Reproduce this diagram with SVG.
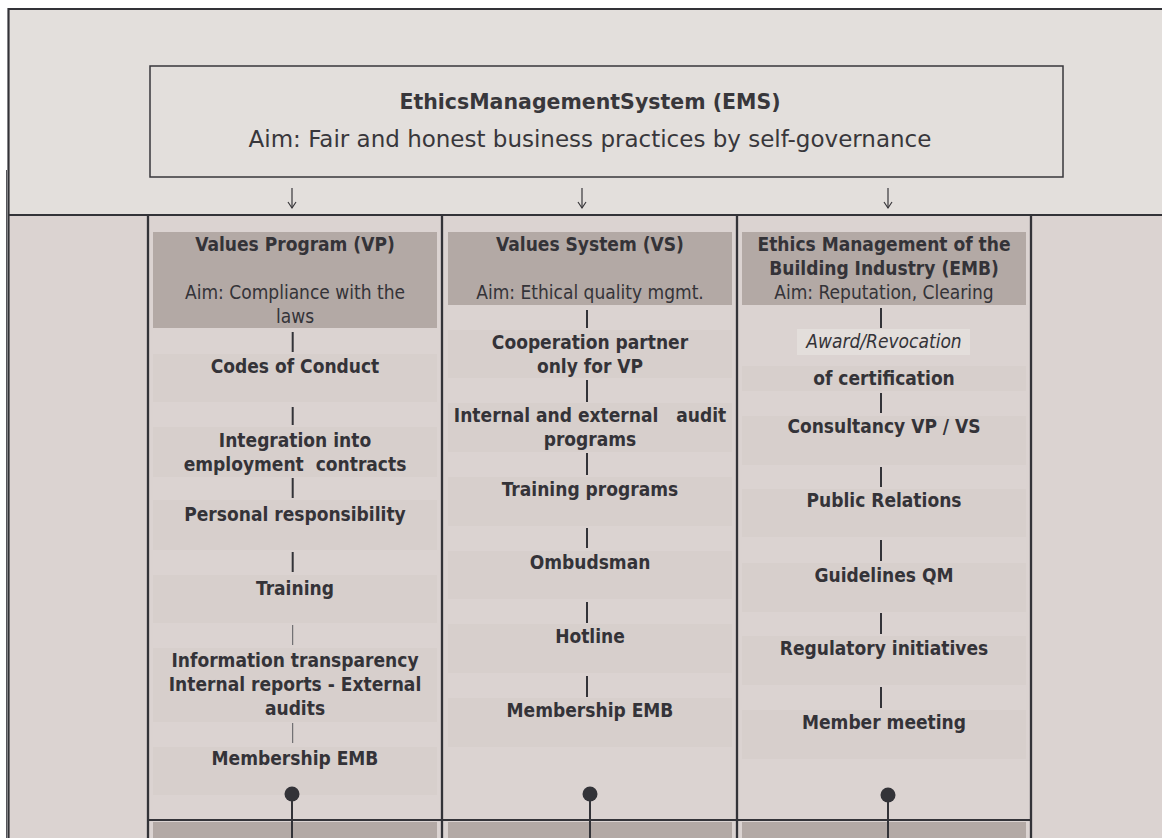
<svg xmlns="http://www.w3.org/2000/svg" width="1162" height="838" viewBox="0 0 1162 838">
<defs>
<marker id="ah" markerWidth="10" markerHeight="10" refX="8.5" refY="5" orient="auto" markerUnits="userSpaceOnUse" viewBox="0 0 10 10">
<path d="M2.5,1 L8.5,5 L2.5,9" fill="none" stroke="#38373b" stroke-width="1.2"/>
</marker>
</defs>
<style>
.frame{stroke:#333338;stroke-width:2.2;fill:none}
.col{stroke:#333338;stroke-width:2.3;fill:none}
.hdr{fill:#b3a9a5}
.item{fill:#d7cfcc}
.hi{fill:#e3dedb}
.t{font-family:"DejaVu Sans Condensed","DejaVu Sans",sans-serif;font-stretch:condensed;font-size:19px;fill:#343338;text-anchor:middle}
.b{font-weight:bold}
.i{font-style:italic}
.pre{white-space:pre}
.ht{font-family:"DejaVu Sans",sans-serif;fill:#38373b;text-anchor:middle}
.arr{stroke:#38373b;stroke-width:1.2;fill:none}
.c{stroke:#333338;stroke-width:2;fill:none}
.cthin{stroke:#5a5a5e;stroke-width:1;fill:none}
.dot{fill:#333338}
</style>
<rect x="0" y="0" width="1162" height="838" fill="#ffffff"/>
<rect x="8" y="9" width="1154" height="206" fill="#e3dfdc"/>
<rect x="8" y="215" width="1154" height="623" fill="#dbd3d1"/>
<g id="frame">
<line class="frame" x1="8" y1="9" x2="1162" y2="9"/>
<line class="frame" x1="8.5" y1="8" x2="8.5" y2="838"/>
<line stroke="#55555a" stroke-width="1" x1="6.5" y1="170" x2="6.5" y2="838"/>
<line class="frame" x1="8" y1="215" x2="1162" y2="215"/>
</g>
<g id="ems">
<rect x="150" y="66" width="913" height="111" fill="none" stroke="#38373b" stroke-width="1.5"/>
<text class="ht" x="590" y="109" font-size="20.5" font-weight="bold">EthicsManagementSystem (EMS)</text>
<text class="ht" x="590" y="147" font-size="23">Aim: Fair and honest business practices by self-governance</text>
</g>
<g id="columns">
<line class="col" x1="148" y1="215" x2="148" y2="838"/>
<line class="col" x1="442" y1="215" x2="442" y2="838"/>
<line class="col" x1="737" y1="215" x2="737" y2="838"/>
<line class="col" x1="1031" y1="215" x2="1031" y2="838"/>
<line class="frame" x1="148" y1="820" x2="1031" y2="820"/>
<rect class="hdr" x="153" y="822" width="284" height="16"/>
<rect class="hdr" x="448" y="822" width="284" height="16"/>
<rect class="hdr" x="742" y="822" width="284" height="16"/>
</g>
<g id="vp">
<rect class="hdr" x="153" y="232" width="284" height="96"/>
<text class="t b" x="295" y="251">Values Program (VP)</text>
<text class="t" x="295" y="299">Aim: Compliance with the</text>
<text class="t" x="295" y="323">laws</text>
</g>
<g id="vp-codes"><rect class="item" x="153" y="354" width="284" height="48"/><text class="t b" x="295" y="373">Codes of Conduct</text></g>
<g id="vp-integration"><rect class="item" x="153" y="427" width="284" height="50"/><text class="t b" x="295" y="447">Integration into</text><text class="t b pre" x="295" y="471">employment  contracts</text></g>
<g id="vp-personal"><rect class="item" x="153" y="500" width="284" height="50"/><text class="t b" x="295" y="521">Personal responsibility</text></g>
<g id="vp-training"><rect class="item" x="153" y="575" width="284" height="48"/><text class="t b" x="295" y="595">Training</text></g>
<g id="vp-info"><rect class="item" x="153" y="648" width="284" height="74"/><text class="t b" x="295" y="667">Information transparency</text><text class="t b" x="295" y="691">Internal reports - External</text><text class="t b" x="295" y="715">audits</text></g>
<g id="vp-membership"><rect class="item" x="153" y="747" width="284" height="48"/><text class="t b" x="295" y="765">Membership EMB</text></g>
<g id="vs">
<rect class="hdr" x="448" y="232" width="284" height="73"/>
<text class="t b" x="590" y="251">Values System (VS)</text>
<text class="t" x="590" y="299">Aim: Ethical quality mgmt.</text>
</g>
<g id="vs-coop"><rect class="item" x="448" y="330" width="284" height="48"/><text class="t b" x="590" y="349">Cooperation partner</text><text class="t b" x="590" y="373">only for VP</text></g>
<g id="vs-audit"><rect class="item" x="448" y="403" width="284" height="49"/><text class="t b pre" x="590" y="422">Internal and external   audit</text><text class="t b" x="590" y="446">programs</text></g>
<g id="vs-training"><rect class="item" x="448" y="477" width="284" height="49"/><text class="t b" x="590" y="496">Training programs</text></g>
<g id="vs-ombudsman"><rect class="item" x="448" y="551" width="284" height="48"/><text class="t b" x="590" y="569">Ombudsman</text></g>
<g id="vs-hotline"><rect class="item" x="448" y="624" width="284" height="49"/><text class="t b" x="590" y="643">Hotline</text></g>
<g id="vs-membership"><rect class="item" x="448" y="698" width="284" height="49"/><text class="t b" x="590" y="717">Membership EMB</text></g>
<g id="emb">
<rect class="hdr" x="742" y="232" width="284" height="73"/>
<text class="t b" x="884" y="251">Ethics Management of the</text>
<text class="t b" x="884" y="275">Building Industry (EMB)</text>
<text class="t" x="884" y="299">Aim: Reputation, Clearing</text>
</g>
<g id="emb-award"><rect class="hi" x="797" y="329" width="173" height="26"/><text class="t i" x="884" y="348">Award/Revocation</text></g>
<g id="emb-cert"><rect class="item" x="742" y="366" width="284" height="25"/><text class="t b" x="884" y="385">of certification</text></g>
<g id="emb-consult"><rect class="item" x="742" y="416" width="284" height="49"/><text class="t b" x="884" y="433">Consultancy VP / VS</text></g>
<g id="emb-pr"><rect class="item" x="742" y="489" width="284" height="48"/><text class="t b" x="884" y="507">Public Relations</text></g>
<g id="emb-qm"><rect class="item" x="742" y="563" width="284" height="49"/><text class="t b" x="884" y="582">Guidelines QM</text></g>
<g id="emb-reg"><rect class="item" x="742" y="636" width="284" height="49"/><text class="t b" x="884" y="655">Regulatory initiatives</text></g>
<g id="emb-meeting"><rect class="item" x="742" y="710" width="284" height="49"/><text class="t b" x="884" y="729">Member meeting</text></g>
<g id="connectors">
<line class="arr" x1="292" y1="188" x2="292" y2="208" marker-end="url(#ah)"/>
<line class="arr" x1="582" y1="188" x2="582" y2="208" marker-end="url(#ah)"/>
<line class="arr" x1="888" y1="188" x2="888" y2="208" marker-end="url(#ah)"/>
<line class="c" x1="292.7" y1="332" x2="292.7" y2="352"/>
<line class="c" x1="292.7" y1="407" x2="292.7" y2="425"/>
<line class="c" x1="292.7" y1="478" x2="292.7" y2="498"/>
<line class="c" x1="292.7" y1="552" x2="292.7" y2="572"/>
<line class="cthin" x1="292.7" y1="625" x2="292.7" y2="645"/>
<line class="cthin" x1="292.7" y1="723" x2="292.7" y2="743"/>
<line class="c" x1="587" y1="310" x2="587" y2="328"/>
<line class="c" x1="587" y1="380" x2="587" y2="402"/>
<line class="c" x1="587" y1="453" x2="587" y2="475"/>
<line class="c" x1="587" y1="528" x2="587" y2="548"/>
<line class="c" x1="587" y1="602" x2="587" y2="623"/>
<line class="c" x1="587" y1="676" x2="587" y2="697"/>
<line class="c" x1="881" y1="308" x2="881" y2="328"/>
<line class="c" x1="881" y1="393" x2="881" y2="413"/>
<line class="c" x1="881" y1="467" x2="881" y2="487"/>
<line class="c" x1="881" y1="540" x2="881" y2="561"/>
<line class="c" x1="881" y1="613" x2="881" y2="634"/>
<line class="c" x1="881" y1="687" x2="881" y2="708"/>
<circle class="dot" cx="292" cy="794" r="7.5"/>
<line class="c" x1="292" y1="794" x2="292" y2="838"/>
<circle class="dot" cx="590" cy="794" r="7.5"/>
<line class="c" x1="590" y1="794" x2="590" y2="838"/>
<circle class="dot" cx="888" cy="795" r="7.5"/>
<line class="c" x1="888" y1="795" x2="888" y2="838"/>
</g>
</svg>
